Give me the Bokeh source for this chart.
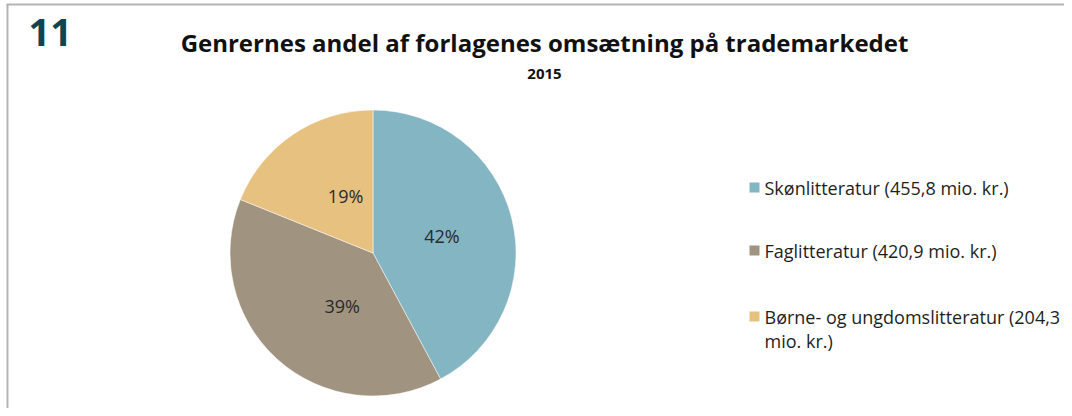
import math
from bokeh.plotting import figure
from bokeh.models import Range1d, ColumnDataSource
from bokeh.core.properties import value
from bokeh.embed import file_html
from bokeh.resources import INLINE

# ---- data ----
categories = ["Skønlitteratur", "Faglitteratur", "Børne- og ungdomslitteratur"]
revenue_mio = [455.8, 420.9, 204.3]
colors = ["#84b5c2", "#a09480", "#e6c17f"]
chart_number = "11"
title_text = "Genrernes andel af forlagenes omsætning på trademarkedet"
subtitle_text = "2015"

W, H = 1064, 408
FONT = "Open Sans"


def X(px):  # image x -> data x
    return px


def Y(py):  # image y -> data y
    return H - py


p = figure(width=W, height=H, output_backend="svg", toolbar_location=None,
           x_range=Range1d(0, W), y_range=Range1d(0, H), min_border=0,
           background_fill_color="white", border_fill_color="white")
p.axis.visible = False
p.grid.visible = False
p.outline_line_color = None

# frame lines (top and left)
p.line([X(6), W], [Y(4), Y(4)], line_color="#b4b4b4", line_width=2)
p.line([X(7), X(7)], [Y(4), 0], line_color="#b4b4b4", line_width=2)

# ---- pie ----
cx, cy, R = X(372.5), Y(252.5), 143
total = sum(revenue_mio)
fracs = [v / total for v in revenue_mio]
starts, ends, mids = [], [], []
a = math.pi / 2
for f in fracs:
    s = a
    e = a - f * 2 * math.pi
    starts.append(s)
    ends.append(e)
    mids.append((s + e) / 2)
    a = e

src = ColumnDataSource(dict(x=[cx] * 3, y=[cy] * 3, start=starts, end=ends,
                            color=colors))
p.wedge(x="x", y="y", radius=R, start_angle="start", end_angle="end",
        direction="clock", fill_color="color", line_color="white",
        line_width=0.5, source=src)

# percent labels (placed along each slice's mid angle)
lab_r = [0.475, 0.50, 0.48]
lab_shift = [3, 17, 11]
lx = [cx + lab_r[i] * R * math.cos(mids[i]) + lab_shift[i] for i in range(3)]
ly = [cy + lab_r[i] * R * math.sin(mids[i]) for i in range(3)]
ltxt = [f"{round(f * 100)}%" for f in fracs]
p.text(lx, ly, text=ltxt, text_font=value(FONT), text_font_size="18px",
       text_color="#2a2a2a", text_align="center", text_baseline="middle")

# ---- titles ----
p.text([X(28)], [Y(32)], text=[chart_number], text_font=value(FONT),
       text_font_size="38px", text_font_style="bold", text_color="#0d4651",
       text_align="left", text_baseline="middle")
p.text([X(544)], [Y(42)], text=[title_text], text_font=value(FONT),
       text_font_size="24px", text_font_style="bold", text_color="#111111",
       text_align="center", text_baseline="middle")
p.text([X(544)], [Y(73)], text=[subtitle_text], text_font=value(FONT),
       text_font_size="15px", text_font_style="bold", text_color="#111111",
       text_align="center", text_baseline="middle")

# ---- legend ----
labels = []
for c, v in zip(categories, revenue_mio):
    labels.append(f"{c} ({v:.1f}".replace(".", ",") + " mio. kr.)")
wrapped = []
for lab in labels:
    if len(lab) > 34:
        cut = lab.rfind(" ", 0, 35)
        wrapped.append([lab[:cut], lab[cut + 1:]])
    else:
        wrapped.append([lab])

row_y = [187, 250, 316]
line_h = 24
p.scatter([X(754)] * 3, [Y(r) for r in row_y], marker="square", size=10,
          fill_color=colors, line_color=None)
tx, ty, tt = [], [], []
for r, lines in zip(row_y, wrapped):
    for i, ln in enumerate(lines):
        tx.append(X(764))
        ty.append(Y(r + i * line_h))
        tt.append(ln)
p.text(tx, ty, text=tt, text_font=value(FONT), text_font_size="18px",
       text_color="#1e1e1e", text_align="left", text_baseline="middle")

open("out.html", "w").write(file_html(p, INLINE))
